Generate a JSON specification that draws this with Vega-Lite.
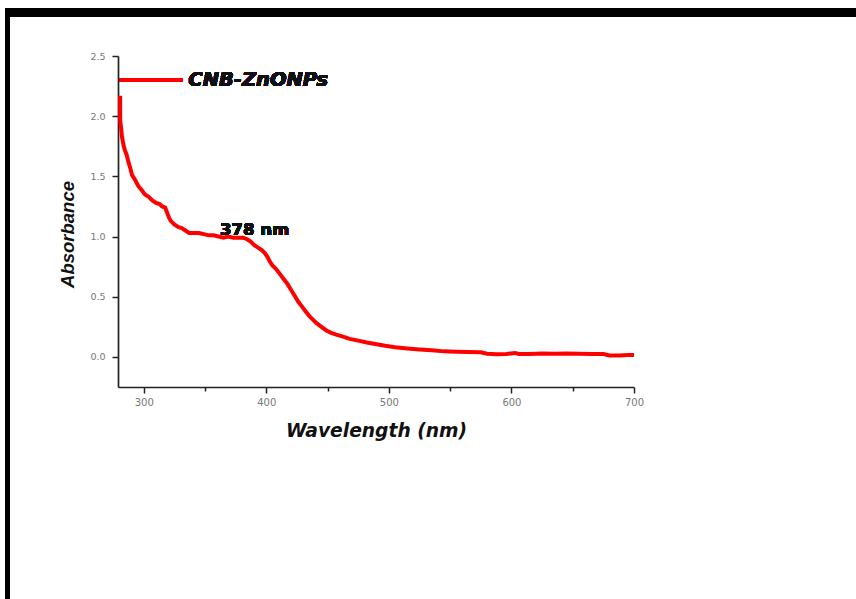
{
  "$schema": "https://vega.github.io/schema/vega-lite/v6.json",
  "width": 516,
  "height": 331,
  "autosize": "none",
  "padding": {"left": 118, "top": 56, "right": 222, "bottom": 212},
  "background": "white",
  "config": {"view": {"stroke": null}},
  "data": {"values": [
    {"wavelength": 280.7, "absorbance": 2.17},
    {"wavelength": 280.8, "absorbance": 1.96},
    {"wavelength": 281.6, "absorbance": 1.90},
    {"wavelength": 282.2, "absorbance": 1.83},
    {"wavelength": 283.5, "absorbance": 1.76},
    {"wavelength": 284.5, "absorbance": 1.72},
    {"wavelength": 286, "absorbance": 1.68},
    {"wavelength": 287.5, "absorbance": 1.62},
    {"wavelength": 289, "absorbance": 1.57},
    {"wavelength": 290.5, "absorbance": 1.51},
    {"wavelength": 293, "absorbance": 1.47},
    {"wavelength": 295.5, "absorbance": 1.42},
    {"wavelength": 298, "absorbance": 1.39},
    {"wavelength": 301, "absorbance": 1.35},
    {"wavelength": 304, "absorbance": 1.33},
    {"wavelength": 307, "absorbance": 1.30},
    {"wavelength": 310, "absorbance": 1.28},
    {"wavelength": 313, "absorbance": 1.27},
    {"wavelength": 315, "absorbance": 1.25},
    {"wavelength": 317.5, "absorbance": 1.24},
    {"wavelength": 319, "absorbance": 1.20},
    {"wavelength": 320.5, "absorbance": 1.16},
    {"wavelength": 322, "absorbance": 1.13},
    {"wavelength": 325, "absorbance": 1.10},
    {"wavelength": 328, "absorbance": 1.08},
    {"wavelength": 331, "absorbance": 1.07},
    {"wavelength": 334, "absorbance": 1.05},
    {"wavelength": 337, "absorbance": 1.03},
    {"wavelength": 341, "absorbance": 1.03},
    {"wavelength": 345, "absorbance": 1.03},
    {"wavelength": 349, "absorbance": 1.02},
    {"wavelength": 353, "absorbance": 1.01},
    {"wavelength": 357, "absorbance": 1.01},
    {"wavelength": 361, "absorbance": 1.00},
    {"wavelength": 365, "absorbance": 0.99},
    {"wavelength": 369, "absorbance": 1.00},
    {"wavelength": 373, "absorbance": 0.99},
    {"wavelength": 377, "absorbance": 0.99},
    {"wavelength": 381, "absorbance": 0.99},
    {"wavelength": 384, "absorbance": 0.98},
    {"wavelength": 387, "absorbance": 0.96},
    {"wavelength": 390, "absorbance": 0.93},
    {"wavelength": 393, "absorbance": 0.91},
    {"wavelength": 396, "absorbance": 0.89},
    {"wavelength": 399, "absorbance": 0.86},
    {"wavelength": 401, "absorbance": 0.83},
    {"wavelength": 403, "absorbance": 0.79},
    {"wavelength": 405, "absorbance": 0.76},
    {"wavelength": 408, "absorbance": 0.73},
    {"wavelength": 411, "absorbance": 0.69},
    {"wavelength": 414, "absorbance": 0.65},
    {"wavelength": 417, "absorbance": 0.61},
    {"wavelength": 420, "absorbance": 0.56},
    {"wavelength": 423, "absorbance": 0.51},
    {"wavelength": 426, "absorbance": 0.46},
    {"wavelength": 429, "absorbance": 0.42},
    {"wavelength": 432, "absorbance": 0.38},
    {"wavelength": 435, "absorbance": 0.34},
    {"wavelength": 438, "absorbance": 0.31},
    {"wavelength": 441, "absorbance": 0.28},
    {"wavelength": 445, "absorbance": 0.25},
    {"wavelength": 449, "absorbance": 0.22},
    {"wavelength": 453, "absorbance": 0.20},
    {"wavelength": 457, "absorbance": 0.185},
    {"wavelength": 462, "absorbance": 0.17},
    {"wavelength": 468, "absorbance": 0.15},
    {"wavelength": 475, "absorbance": 0.135},
    {"wavelength": 482, "absorbance": 0.12},
    {"wavelength": 490, "absorbance": 0.105},
    {"wavelength": 497, "absorbance": 0.092},
    {"wavelength": 505, "absorbance": 0.08},
    {"wavelength": 515, "absorbance": 0.07},
    {"wavelength": 525, "absorbance": 0.062},
    {"wavelength": 535, "absorbance": 0.055},
    {"wavelength": 545, "absorbance": 0.046},
    {"wavelength": 555, "absorbance": 0.042},
    {"wavelength": 565, "absorbance": 0.04},
    {"wavelength": 575, "absorbance": 0.038},
    {"wavelength": 580, "absorbance": 0.026},
    {"wavelength": 588, "absorbance": 0.022},
    {"wavelength": 596, "absorbance": 0.025},
    {"wavelength": 603, "absorbance": 0.033},
    {"wavelength": 606, "absorbance": 0.024},
    {"wavelength": 615, "absorbance": 0.024},
    {"wavelength": 625, "absorbance": 0.028},
    {"wavelength": 635, "absorbance": 0.026},
    {"wavelength": 645, "absorbance": 0.028},
    {"wavelength": 655, "absorbance": 0.026},
    {"wavelength": 665, "absorbance": 0.025},
    {"wavelength": 675, "absorbance": 0.024},
    {"wavelength": 680, "absorbance": 0.012},
    {"wavelength": 688, "absorbance": 0.012},
    {"wavelength": 695, "absorbance": 0.016},
    {"wavelength": 700, "absorbance": 0.016}
  ]},
  "layer": [
    {
      "mark": {"type": "rule", "color": "black", "strokeWidth": 8.5, "clip": false},
      "encoding": {
        "x": {"datum": 187.2, "type": "quantitative", "scale": {"domain": [279, 700], "nice": false}},
        "x2": {"datum": 890},
        "y": {"datum": 2.8625, "type": "quantitative", "scale": {"domain": [-0.25, 2.5], "nice": false}}
      }
    },
    {
      "mark": {"type": "rule", "color": "black", "strokeWidth": 4.5, "clip": false},
      "encoding": {
        "x": {"datum": 189, "type": "quantitative", "scale": {"domain": [279, 700], "nice": false}},
        "y": {"datum": 2.8975, "type": "quantitative", "scale": {"domain": [-0.25, 2.5], "nice": false}},
        "y2": {"datum": -2.1}
      }
    },
    {
      "mark": {"type": "line", "color": "#ff0000", "strokeWidth": 4, "clip": false},
      "encoding": {
        "x": {
          "field": "wavelength", "type": "quantitative",
          "scale": {"domain": [279, 700], "nice": false, "zero": false},
          "axis": {
            "title": "Wavelength (nm)",
            "values": [300, 350, 400, 450, 500, 550, 600, 650, 700],
            "format": "d",
            "labelExpr": "datum.value % 100 === 0 ? datum.label : ''",
            "tickSize": {"condition": {"test": "datum.value % 100 === 0", "value": 6}, "value": 4},
            "tickColor": "#222", "tickWidth": 1.5,
            "domainColor": "#222", "domainWidth": 1.7,
            "labelFont": "DejaVu Sans", "labelFontSize": 10, "labelColor": "#777",
            "labelPadding": 4, "labelFlush": false, "labelOverlap": false, "labelBound": false,
            "grid": false,
            "titleFont": "DejaVu Sans", "titleFontSize": 18.7, "titleFontStyle": "italic", "titleFontWeight": "bold",
            "titleColor": "#111", "titleBaseline": "alphabetic", "titleY": 49, "titleAnchor": "middle"
          }
        },
        "y": {
          "field": "absorbance", "type": "quantitative",
          "scale": {"domain": [-0.25, 2.5], "nice": false, "zero": false},
          "axis": {
            "title": "Absorbance",
            "values": [0, 0.25, 0.5, 0.75, 1, 1.25, 1.5, 1.75, 2, 2.25, 2.5],
            "format": ".1f",
            "labelExpr": "datum.value % 0.5 === 0 ? datum.label : ''",
            "tickSize": {"condition": {"test": "datum.value % 0.5 === 0", "value": 6}, "value": 3.5},
            "tickColor": "#222", "tickWidth": 1.5,
            "domainColor": "#222", "domainWidth": 1.7,
            "labelFont": "DejaVu Sans", "labelFontSize": 9.5, "labelColor": "#777",
            "labelPadding": 7, "labelOverlap": false, "labelBound": false, "labelFlush": false,
            "grid": false,
            "titleFont": "Liberation Sans", "titleFontSize": 18.5, "titleFontStyle": "italic", "titleFontWeight": "bold",
            "titleColor": "#111", "titleAngle": -90, "titleBaseline": "alphabetic", "titleAlign": "center",
            "titleX": -45, "titleY": 178
          }
        }
      }
    },
    {
      "mark": {"type": "rule", "color": "#ff0000", "strokeWidth": 4, "clip": false},
      "encoding": {
        "x": {"datum": 280.6, "type": "quantitative", "scale": {"domain": [279, 700], "nice": false}},
        "x2": {"datum": 332},
        "y": {"datum": 2.3, "type": "quantitative", "scale": {"domain": [-0.25, 2.5], "nice": false}}
      }
    },
    {
      "mark": {"type": "text", "text": "CNB-ZnONPs", "font": "DejaVu Sans", "fontSize": 19.5, "fontStyle": "italic", "fontWeight": "bold", "color": "#111", "align": "left", "baseline": "alphabetic", "clip": false},
      "encoding": {
        "x": {"datum": 336.4, "type": "quantitative", "scale": {"domain": [279, 700], "nice": false}},
        "y": {"datum": 2.25, "type": "quantitative", "scale": {"domain": [-0.25, 2.5], "nice": false}}
      }
    },
    {
      "mark": {"type": "text", "text": "378 nm", "font": "DejaVu Sans", "fontSize": 16.5, "fontWeight": "bold", "color": "#111", "align": "left", "baseline": "alphabetic", "clip": false},
      "encoding": {
        "x": {"datum": 362.3, "type": "quantitative", "scale": {"domain": [279, 700], "nice": false}},
        "y": {"datum": 1.0167, "type": "quantitative", "scale": {"domain": [-0.25, 2.5], "nice": false}}
      }
    }
  ]
}
